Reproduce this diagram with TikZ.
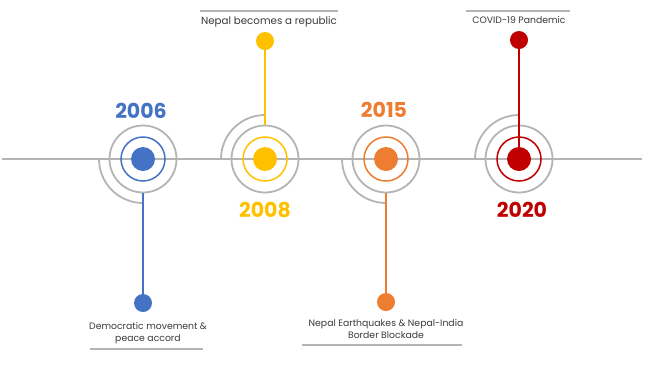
\documentclass[tikz,border=0pt]{standalone}
\usepackage{fontspec}
\setmainfont{Poppins}
\definecolor{tlgray}{HTML}{B4B4B4}
\definecolor{tlblue}{HTML}{4472C4}
\definecolor{tlyellow}{HTML}{FFC000}
\definecolor{tlorange}{HTML}{ED7D31}
\definecolor{tlred}{HTML}{C00000}
\definecolor{txtgray}{HTML}{3A3A3A}
\tikzset{
    halo/.style={circle, draw=tlgray, line width=1.8pt, minimum size=67pt, inner sep=0pt},
    ring/.style={circle, draw=#1, line width=1.5pt, minimum size=44pt, inner sep=0pt},
    core/.style={circle, fill=#1, minimum size=24pt, inner sep=0pt},
    enddot/.style={circle, fill=#1, minimum size=18pt, inner sep=0pt},
    year/.style={text=#1, font=\fontsize{20.5}{22}\selectfont\bfseries},
    event/.style={text=txtgray, align=center, font=\fontsize{9.3}{12}\selectfont},
    rule/.style={draw=tlgray, line width=1.3pt},
    stem/.style={draw=#1, line width=1.5pt}
}

\begin{document}
\begin{tikzpicture}[x=1pt, y=-1pt]
        \useasboundingbox (0,0) rectangle (645,365);
        \coordinate (tl) at (2,159);
        \coordinate (tr) at (642,159);
        \draw[rule, line width=1.8pt] (tl) -- (tr);

        \node (h1) [halo] at (143,159) {};
        \node (h2) [halo] at (265,159) {};
        \node (h3) [halo] at (386,159) {};
        \node (h4) [halo] at (519,159) {};
        \draw[rule, line width=1.8pt] (h1.center) ++(-44pt,0pt) arc[start angle=180, end angle=270, radius=44pt];
        \draw[rule, line width=1.8pt] (h2.center) ++(-44pt,0pt) arc[start angle=180, end angle=90, radius=44pt];
        \draw[rule, line width=1.8pt] (h3.center) ++(-44pt,0pt) arc[start angle=180, end angle=270, radius=44pt];
        \draw[rule, line width=1.8pt] (h4.center) ++(-44pt,0pt) arc[start angle=180, end angle=90, radius=44pt];

        \node (r1) [ring=tlblue] at (h1) {};
        \node (r2) [ring=tlyellow] at (h2) {};
        \node (r3) [ring=tlorange] at (h3) {};
        \node (r4) [ring=tlred] at (h4) {};
        \node (c1) [core=tlblue] at (h1) {};
        \node (c2) [core=tlyellow] at (h2) {};
        \node (c3) [core=tlorange] at (h3) {};
        \node (c4) [core=tlred] at (h4) {};

        \node (p1) [enddot=tlblue] at (143,303) {};
        \node (p2) [enddot=tlyellow] at (265,41) {};
        \node (p3) [enddot=tlorange] at (386,302) {};
        \node (p4) [enddot=tlred] at (519,40) {};
        \draw[stem=tlblue] (h1) -- (p1);
        \draw[stem=tlyellow] (h2) -- (p2);
        \draw[stem=tlorange] (h3) -- (p3);
        \draw[stem=tlred] (p4) -- (c4);

        \node (y1) [year=tlblue] at (141,111) {2006};
        \node (y2) [year=tlyellow] at (265,210) {2008};
        \node (y3) [year=tlorange] at (384,110) {2015};
        \node (y4) [year=tlred] at (522,210) {2020};

        \node (e1) [event] at (148,333) {Democratic movement \&\\peace accord};
        \node (e2) [event, font=\fontsize{10.3}{12}\selectfont] at (269,22) {Nepal becomes a republic};
        \node (e3) [event] at (386,329) {Nepal Earthquakes \& Nepal-India\\Border Blockade};
        \node (e4) [event] at (519,20) {COVID-19 Pandemic};

        \coordinate (u1a) at (90,349);
        \coordinate (u1b) at (203,349);
        \coordinate (u2a) at (200,11);
        \coordinate (u2b) at (338,11);
        \coordinate (u3a) at (302,345);
        \coordinate (u3b) at (462,345);
        \coordinate (u4a) at (466,11);
        \coordinate (u4b) at (570,11);
        \draw[rule] (u1a) -- (u1b);
        \draw[rule] (u2a) -- (u2b);
        \draw[rule] (u3a) -- (u3b);
        \draw[rule] (u4a) -- (u4b);
\end{tikzpicture}
\end{document}
